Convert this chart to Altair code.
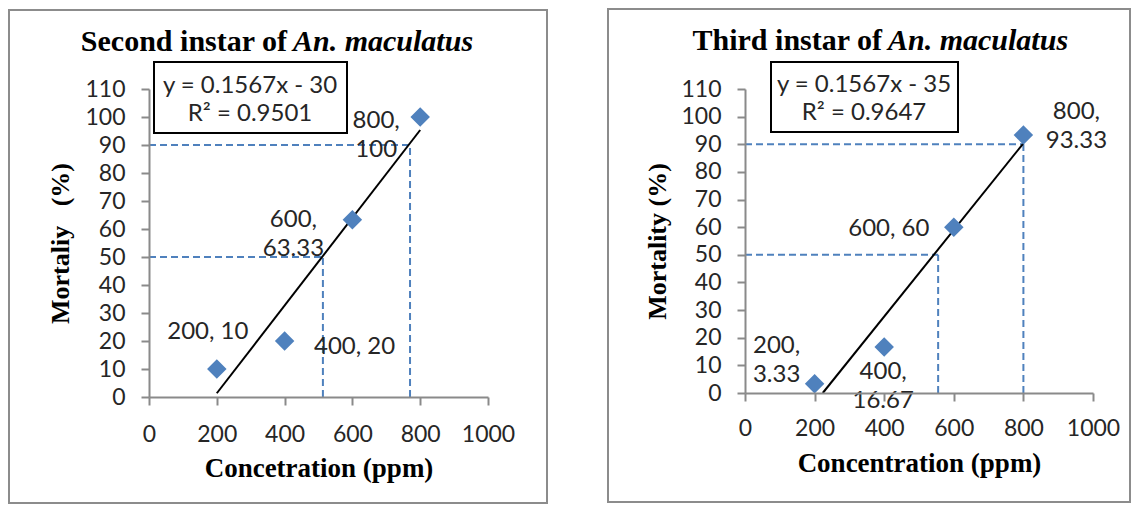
import altair as alt
import pandas as pd

# ---------------- data ----------------
conc = [200, 400, 600, 800]
mort_second = [10, 20, 63.33, 100]
mort_third = [3.33, 16.67, 60, 93.33]
labels_second = ["200, 10", "400, 20", "600,\n63.33", "800,\n100"]
labels_third = ["200,\n3.33", "400,\n16.67", "600, 60", "800,\n93.33"]

trend_second_x = [200, 800]
trend_second_y = [1.34, 95.36]
trend_third_x = [223.4, 800]
trend_third_y = [0, 90.36]

lc_levels = [50, 90]
lc_second = [513, 770]
lc_third = [555, 800]

eq_second = ["y = 0.1567x - 30", "R² = 0.9501"]
eq_third = ["y = 0.1567x - 35", "R² = 0.9647"]

x_ticks = [0, 200, 400, 600, 800, 1000]
y_ticks = [0, 10, 20, 30, 40, 50, 60, 70, 80, 90, 100, 110]

BLUE = "#4F81BD"
AXIS_GRAY = "#8a8a8a"
TXT = "#262626"
SERIF = "Liberation Serif"
SANS = "Lato"


def panel(xs, ys, labels, offsets, tx, ty, lc, eq, title_a, title_b,
          xtitle, ytitle, w, h, frame, box, eq_pos, title_split, title_y,
          xtitle_y, xlabel_pad, ylabel_pad, ytitle_x):
    xscale = alt.Scale(domain=[0, 1000], nice=False, zero=False)
    yscale = alt.Scale(domain=[0, 110], nice=False, zero=False)
    xaxis = alt.Axis(values=x_ticks, format="d", grid=False, tickSize=8, tickWidth=2,
                     tickColor=AXIS_GRAY, domainColor=AXIS_GRAY, domainWidth=2,
                     labelFont=SANS, labelFontSize=23, labelColor=TXT,
                     labelPadding=xlabel_pad, labelFlush=False, labelOverlap=False,
                     titleFont=SERIF, titleFontSize=27, titleFontWeight="bold",
                     titleColor="black", titleX=w / 2, titleY=xtitle_y,
                     titleBaseline="middle", titleAlign="center", zindex=1)
    yaxis = alt.Axis(values=y_ticks, format="d", grid=False, tickSize=8, tickWidth=2,
                     tickColor=AXIS_GRAY, domainColor=AXIS_GRAY, domainWidth=2,
                     labelFont=SANS, labelFontSize=23, labelColor=TXT,
                     labelPadding=ylabel_pad, labelOverlap=False,
                     titleFont=SERIF, titleFontSize=26, titleFontWeight="bold",
                     titleColor="black", titleX=ytitle_x, titleY=h / 2,
                     titleAngle=270, titleBaseline="middle", titleAlign="center",
                     zindex=1)

    def X(f):
        return alt.X(f, type="quantitative", scale=xscale, axis=xaxis, title=xtitle)

    def Y(f):
        return alt.Y(f, type="quantitative", scale=yscale, axis=yaxis, title=ytitle)

    one = pd.DataFrame({"k": [0]})
    layers = []

    # outer frame
    layers.append(alt.Chart(one).mark_rect(fill="white", fillOpacity=0, stroke="#8c8c8c",
                                           strokeWidth=2).encode(
        x=alt.value(frame[0]), x2=alt.value(frame[1]),
        y=alt.value(frame[2]), y2=alt.value(frame[3])))

    # dashed LC lines
    hdf = pd.DataFrame({"x": [0] * len(lc), "x1": lc, "y": lc_levels})
    vdf = pd.DataFrame({"x": lc, "y": [0] * len(lc), "y1": lc_levels})
    layers.append(alt.Chart(hdf).mark_rule(color=BLUE, strokeWidth=2, strokeDash=[7, 4]).encode(
        x=X("x"), x2="x1:Q", y=Y("y")))
    layers.append(alt.Chart(vdf).mark_rule(color=BLUE, strokeWidth=2, strokeDash=[7, 4]).encode(
        x=X("x"), y=Y("y"), y2="y1:Q"))

    # trendline
    tdf = pd.DataFrame({"x": tx, "y": ty})
    layers.append(alt.Chart(tdf).mark_line(color="black", strokeWidth=2).encode(x=X("x"), y=Y("y")))

    # points
    pdf = pd.DataFrame({"x": xs, "y": ys})
    layers.append(alt.Chart(pdf).mark_point(shape="diamond", filled=True, size=380,
                                            color=BLUE, opacity=1).encode(x=X("x"), y=Y("y")))

    # data labels
    for i, lab in enumerate(labels):
        ldf = pd.DataFrame({"x": [xs[i]], "y": [ys[i]], "t": [lab]})
        dx, dy = offsets[i]
        layers.append(alt.Chart(ldf).mark_text(
            font=SANS, fontSize=24, color=TXT, align="center", baseline="middle",
            lineBreak="\n", lineHeight=29, dx=dx, dy=dy).encode(
            x=X("x"), y=Y("y"), text="t:N"))

    # equation box
    layers.append(alt.Chart(one).mark_rect(fill="white", stroke="black", strokeWidth=2).encode(
        x=alt.value(box[0]), x2=alt.value(box[1]), y=alt.value(box[2]), y2=alt.value(box[3])))
    for j, line in enumerate(eq):
        edf = pd.DataFrame({"t": [line]})
        layers.append(alt.Chart(edf).mark_text(
            font=SANS, fontSize=24, color=TXT, align="center", baseline="middle").encode(
            x=alt.value(eq_pos[0]), y=alt.value(eq_pos[1 + j]), text="t:N"))

    # title (regular bold + bold italic species name)
    layers.append(alt.Chart(pd.DataFrame({"t": [title_a]})).mark_text(
        font=SERIF, fontSize=30, fontWeight="bold", color="black",
        align="right", baseline="alphabetic").encode(
        x=alt.value(title_split), y=alt.value(title_y), text="t:N"))
    layers.append(alt.Chart(pd.DataFrame({"t": [title_b]})).mark_text(
        font=SERIF, fontSize=30, fontWeight="bold", fontStyle="italic", color="black",
        align="left", baseline="alphabetic").encode(
        x=alt.value(title_split + 6), y=alt.value(title_y), text="t:N"))

    return alt.layer(*layers).properties(width=w, height=h)


left = panel(
    conc, mort_second, labels_second,
    [(-9, -37), (70, 6), (-59, 0), (-44, 4)],
    trend_second_x, trend_second_y, lc_second, eq_second,
    "Second instar of", "An. maculatus",
    "Concetration (ppm)", "Mortaliy \u00a0\u00a0(%)",
    339, 308,
    frame=(-140, 398, -79, 414),
    box=(5, 198, -27, 44),
    eq_pos=(101, -3, 25),
    title_split=138, title_y=-38,
    xtitle_y=71, xlabel_pad=18, ylabel_pad=16, ytitle_x=-89)

right = panel(
    conc, mort_third, labels_third,
    [(-38, -38), (-1, 25), (-65, 2), (53, -23)],
    trend_third_x, trend_third_y, lc_third, eq_third,
    "Third instar of", "An. maculatus",
    "Concentration (ppm)", "Mortality (%)",
    348, 304,
    frame=(-137, 385, -80, 413),
    box=(26, 213, -27, 43),
    eq_pos=(119, -4, 24),
    title_split=137, title_y=-39,
    xtitle_y=70, xlabel_pad=16, ylabel_pad=16, ytitle_x=-88)

chart = alt.hconcat(left, right, spacing=59).properties(padding=0).configure_view(stroke=None)

chart.save("out.html", embed_options={"renderer": "svg", "actions": False})
